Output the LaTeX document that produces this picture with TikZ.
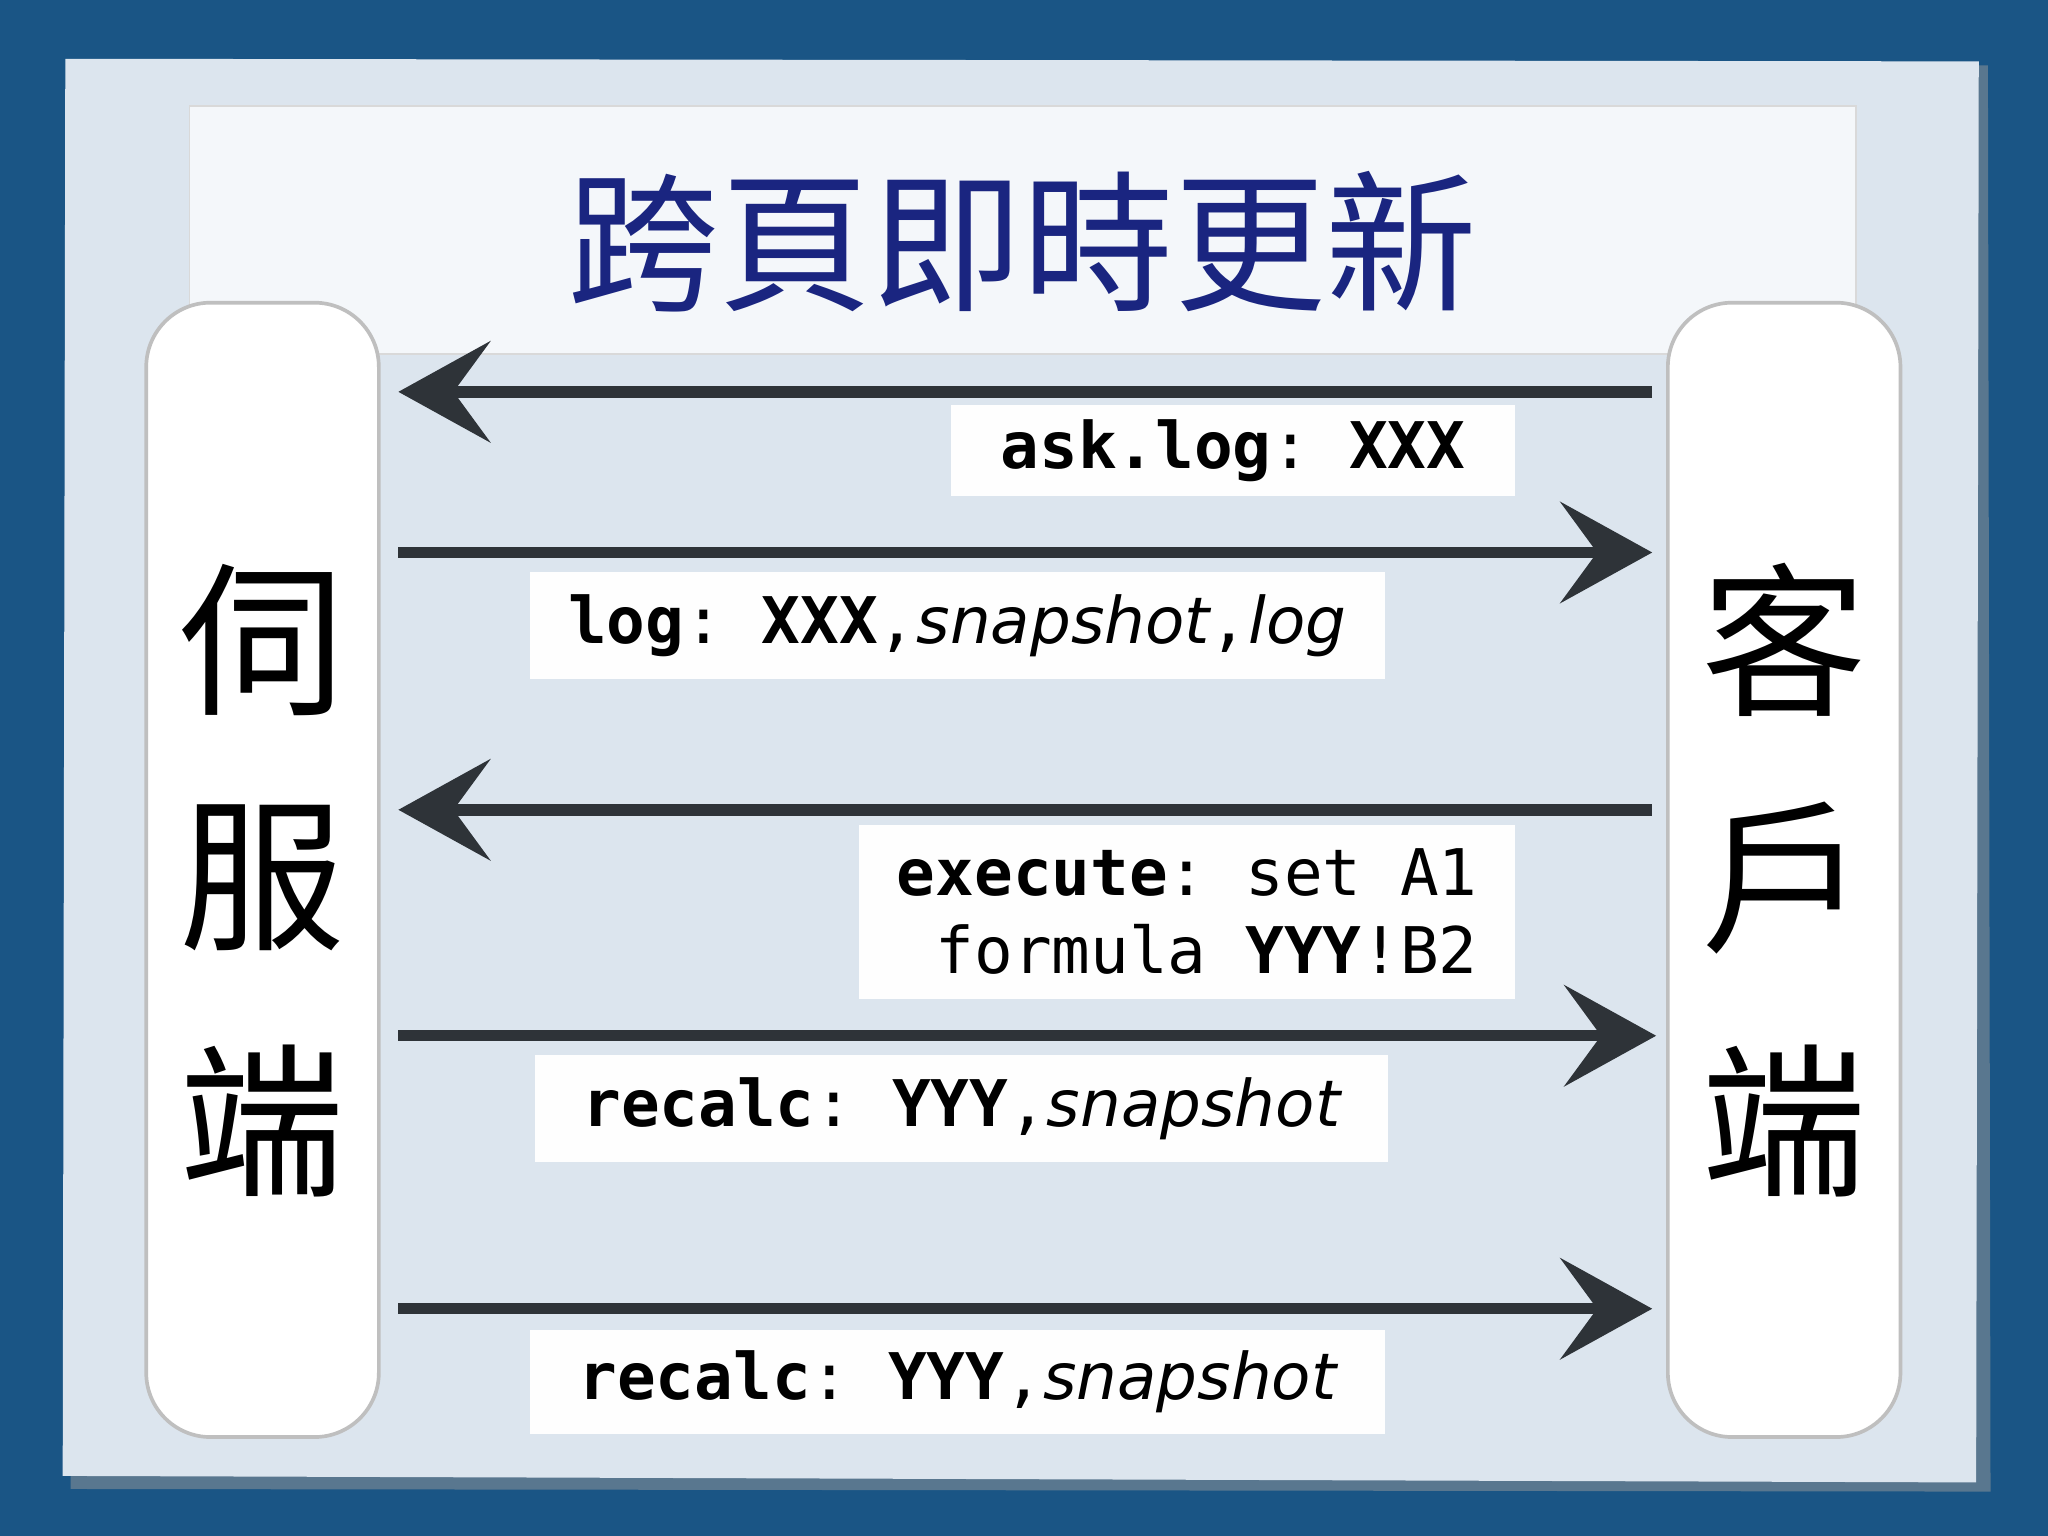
\documentclass[tikz,border=0pt]{standalone}
\usepackage{fontspec}
\setmonofont{DejaVu Sans Mono}
\setsansfont{DejaVu Sans}
\newfontfamily\cjk{Noto Sans CJK TC}
\usetikzlibrary{arrows.meta}
\definecolor{bgblue}{HTML}{1A5585}
\definecolor{paper}{HTML}{DCE5EE}
\definecolor{titleblue}{HTML}{1A2580}
\definecolor{ink}{HTML}{2E3338}
\tikzset{
  pill/.style={draw=gray!50,fill=white,rounded corners=14pt,line width=0.8pt,inner sep=0pt,minimum width=1.78cm,minimum height=8.68cm},
  msg/.style={line width=2.5pt,draw=ink},
  rtip/.style={-{Stealth[length=20pt,width=22pt,inset=8pt]}},
  ltip/.style={{Stealth[length=20pt,width=22pt,inset=8pt]}-},
  lbl/.style={fill=white!96!paper,inner sep=0pt,font=\ttfamily\fontsize{14}{17}\selectfont},
  side/.style={font=\cjk\fontsize{36}{40}\selectfont,text=black}
}
\begin{document}
\begin{tikzpicture}[x=0.01cm,y=-0.01cm]
\fill[bgblue] (0,0) rectangle (1568,1176);
\fill[black!40,opacity=0.5] (56,52) -- (1522,50) -- (1524,1142) -- (54,1140) -- cycle;
\fill[paper] (50,45) -- (1515,47) -- (1513,1135) -- (48,1130) -- cycle;
\node[fill=white!70!paper,draw=gray!30,minimum width=12.75cm,minimum height=1.9cm,inner sep=0pt] (title) at (783,176) {};
\node[font=\cjk\fontsize{33}{36}\selectfont,text=titleblue] (tt) at (783,185) {跨頁即時更新};
\node[pill] (srv) at (201,666) {};
\node[pill] (cli) at (1366,666) {};
\node[side] (s1) at (201,490) {伺};
\node[side] (s2) at (201,672) {服};
\node[side] (s3) at (201,858) {端};
\node[side] (c1) at (1366,490) {客};
\node[side] (c2) at (1366,672) {戶};
\node[side] (c3) at (1366,858) {端};
\coordinate (l1) at (305,300); \coordinate (r1) at (1265,300);
\coordinate (l2) at (305,423); \coordinate (r2) at (1265,423);
\coordinate (l3) at (305,620); \coordinate (r3) at (1265,620);
\coordinate (l4) at (305,793); \coordinate (r4) at (1268,793);
\coordinate (l5) at (305,1002); \coordinate (r5) at (1265,1002);
\draw[msg,ltip] (l1) -- (r1);
\draw[msg,rtip] (l2) -- (r2);
\draw[msg,ltip] (l3) -- (r3);
\draw[msg,rtip] (l4) -- (r4);
\draw[msg,rtip] (l5) -- (r5);
\node[lbl,minimum width=4.32cm,minimum height=0.7cm] (m1) at (944,345) {\textbf{ask.log}:~\textbf{XXX}};
\node[lbl,minimum width=6.54cm,minimum height=0.82cm] (m2) at (733,479) {\textbf{log}:~\textbf{XXX},{\sffamily\itshape snapshot},{\sffamily\itshape log}};
\node[lbl,minimum width=5.02cm,minimum height=1.33cm,align=right] (m3) at (909,698) {\textbf{execute}:~set~A1\\formula~\textbf{YYY}!B2};
\node[lbl,minimum width=6.53cm,minimum height=0.82cm] (m4) at (736,849) {\textbf{recalc}:~\textbf{YYY},{\sffamily\itshape snapshot}};
\node[lbl,minimum width=6.54cm,minimum height=0.8cm] (m5) at (733,1058) {\textbf{recalc}:~\textbf{YYY},{\sffamily\itshape snapshot}};
\end{tikzpicture}
\end{document}
